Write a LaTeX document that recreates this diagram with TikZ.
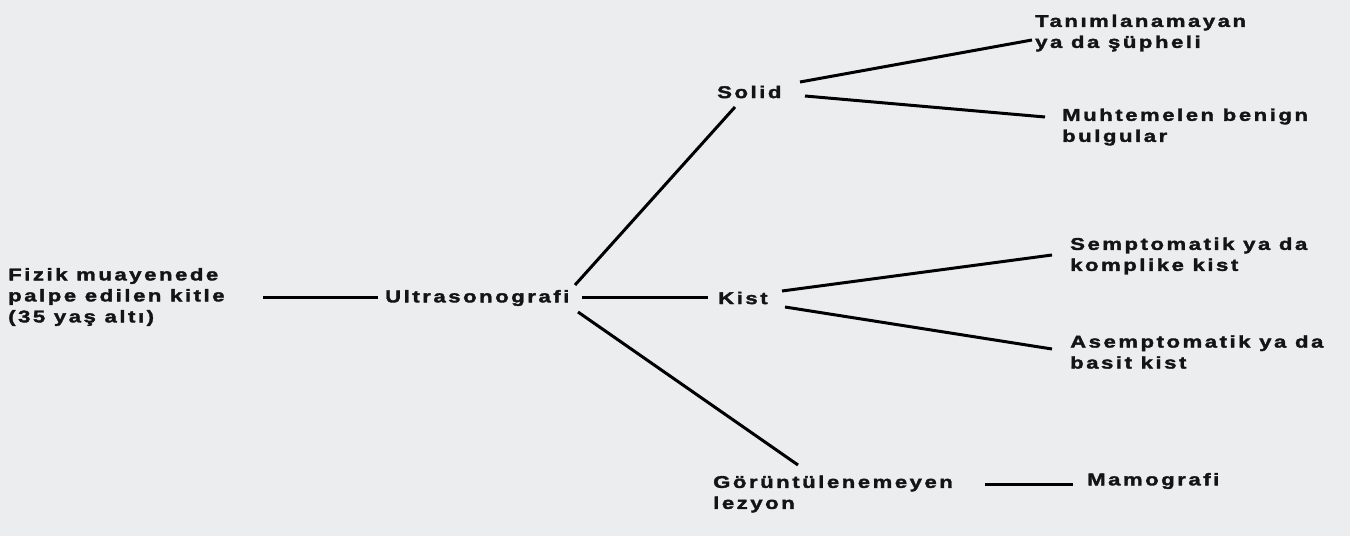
\documentclass[tikz,border=0pt]{standalone}
\usepackage{fontspec}
\newfontfamily\diagfont{Liberation Sans Bold}[FakeStretch=1.3,LetterSpace=15,FakeBold=2]
\usetikzlibrary{calc}
\definecolor{bg}{RGB}{236,237,239}
\definecolor{ink}{RGB}{20,20,20}
\begin{document}
\begin{tikzpicture}[x=1pt,y=1pt,
  lbl/.style={anchor=west,inner sep=0pt,align=left,text=ink,
    font=\diagfont\fontsize{17}{21}\selectfont},
  conn/.style={draw=black,line width=3pt}]
\fill[bg] (0,0) rectangle (1350,536);
\useasboundingbox (0,0) rectangle (1350,536);
\node[lbl] (root) at (8,239) {Fizik muayenede\\palpe edilen kitle\\(35 yaş altı)};
\node[lbl] (ultra) at (385,238) {Ultrasonografi};
\node[lbl] (kist) at (718,238) {Kist};
\node[lbl] (solid) at (717,444) {Solid};
\node[lbl] (gor) at (713,42) {Görüntülenemeyen\\lezyon};
\node[lbl] (mamo) at (1087,55) {Mamografi};
\node[lbl] (tan) at (1035,503) {Tanımlanamayan\\ya da şüpheli};
\node[lbl] (muh) at (1062,409) {Muhtemelen benign\\bulgular};
\node[lbl] (sem) at (1070,280) {Semptomatik ya da\\komplike kist};
\node[lbl] (asem) at (1070,184) {Asemptomatik ya da\\basit kist};
\draw[conn] ($(root.west)+(255,-1)$) -- ($(ultra.west)+(-7,0)$);
\draw[conn] ($(ultra.west)+(197,0)$) -- ($(kist.west)+(-10,0)$);
\draw[conn] ($(ultra.west)+(190,13)$) -- ($(solid.west)+(18,-15)$);
\draw[conn] ($(ultra.west)+(193,-14)$) -- ($(gor.west)+(85,29)$);
\draw[conn] ($(solid.west)+(83,10)$) -- ($(tan.west)+(-3,-7)$);
\draw[conn] ($(solid.west)+(88,-4)$) -- ($(muh.west)+(-17,10)$);
\draw[conn] ($(kist.west)+(64,7)$) -- ($(sem.west)+(-18,1)$);
\draw[conn] ($(kist.west)+(67,-9)$) -- ($(asem.west)+(-18,3)$);
\draw[conn] ($(gor.west)+(272,10)$) -- ($(mamo.west)+(-14,-3)$);
\end{tikzpicture}
\end{document}
